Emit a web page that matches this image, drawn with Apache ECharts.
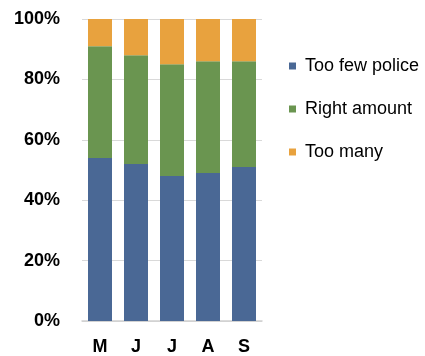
<!DOCTYPE html>
<html>
<head>
<meta charset="utf-8">
<script src="https://cdn.jsdelivr.net/npm/echarts@6/dist/echarts.min.js"></script>
<style>
  html, body { margin: 0; padding: 0; background: #fff; }
  #chart { width: 425px; height: 356px; }
</style>
</head>
<body>
<div id="chart"></div>
<script>
// Survey months and opinion shares (percent of respondents)
const months = ['M', 'J', 'J', 'A', 'S'];
const tooFewPolice = [54, 52, 48, 49, 51];
const rightAmount = [37, 36, 37, 37, 35];
const tooMany = [9, 12, 15, 14, 14];
const yTicks = [0, 20, 40, 60, 80, 100];

const colors = ['#4A6895', '#6A9550', '#E8A23E'];
const font = 'Liberation Sans, Arial, sans-serif';

const chart = echarts.init(document.getElementById('chart'));

function stackSeries(name, values, color) {
  return {
    name: name,
    type: 'bar',
    stack: 'total',
    data: values,
    barWidth: 24,
    itemStyle: { color: color },
    emphasis: { disabled: true }
  };
}

chart.setOption({
  animation: false,
  color: colors,
  grid: { left: 82, right: 163, top: 19, bottom: 35 },
  legend: {
    orient: 'vertical',
    left: 284,
    top: 52,
    itemWidth: 7,
    itemHeight: 7,
    itemGap: 25,
    icon: 'rect',
    textStyle: { fontFamily: font, fontSize: 18, color: '#000', padding: [0, 0, 0, 4] },
    data: ['Too few police', 'Right amount', 'Too many']
  },
  xAxis: {
    type: 'category',
    data: months,
    axisTick: { show: false },
    axisLine: { lineStyle: { color: '#d0d0d0', width: 1.5 } },
    axisLabel: { fontFamily: font, fontSize: 18, fontWeight: 'bold', color: '#000', margin: 17 }
  },
  yAxis: {
    type: 'value',
    min: yTicks[0],
    max: yTicks[yTicks.length - 1],
    interval: yTicks[1] - yTicks[0],
    axisLine: { show: false },
    axisTick: { show: false },
    splitLine: { lineStyle: { color: '#d9d9d9', width: 1 } },
    axisLabel: {
      formatter: '{value}%',
      fontFamily: font, fontSize: 18, fontWeight: 'bold', color: '#000', margin: 22
    }
  },
  series: [
    stackSeries('Too few police', tooFewPolice, colors[0]),
    stackSeries('Right amount', rightAmount, colors[1]),
    stackSeries('Too many', tooMany, colors[2])
  ]
});
</script>
</body>
</html>
